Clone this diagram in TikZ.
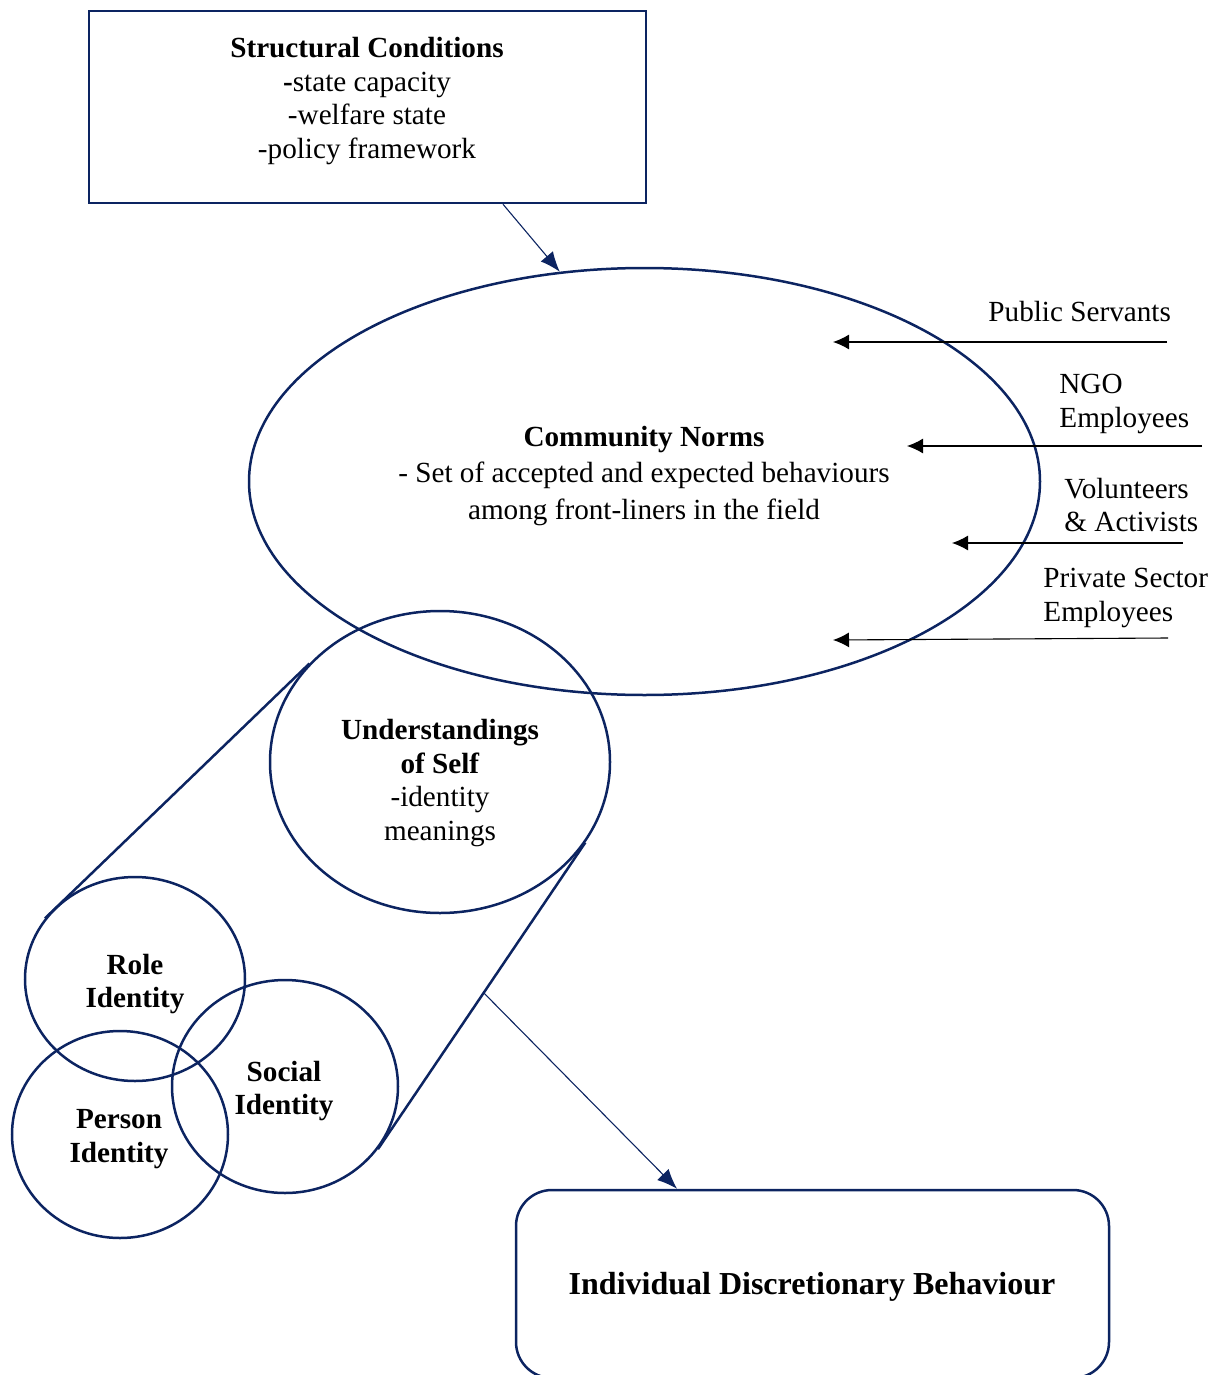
\documentclass[tikz,border=0pt]{standalone}
\usepackage{fontspec}
\setmainfont{Liberation Serif}
\usetikzlibrary{arrows.meta,calc,shapes.geometric}
\definecolor{navy}{RGB}{12,36,97}
\begin{document}
\begin{tikzpicture}[x=0.5pt,y=-0.5pt,
  shapeline/.style={draw=navy,line width=1.25pt},
  oval/.style={shapeline,ellipse,inner sep=0pt},
  txt/.style={align=center,inner sep=0pt,font=\fontsize{14.6}{16.85}\selectfont},
  sidelabel/.style={align=left,anchor=west,inner sep=0pt,font=\fontsize{14.6}{16.85}\selectfont},
  navyarrow/.style={draw=navy,line width=0.55pt,-{Latex[length=10pt,width=8pt]}},
  blackarrow/.style={draw=black,line width=0.55pt,-{Latex[length=8pt,width=7.5pt]}}]
\useasboundingbox (0,0) rectangle (1228,1375);

% structural conditions
\node[shapeline,rectangle,minimum width=278.5pt,minimum height=96pt] (sc) at (367.5,107) {};
\node[txt] (sctext) at (367,101) {\textbf{Structural Conditions}\\\textbf{-}state capacity\\-welfare state\\-policy framework};

% community norms
\node[oval,minimum width=395.5pt,minimum height=213.5pt] (cn) at (644.5,481.5) {};
\node[txt,font=\fontsize{14.6}{18.25}\selectfont] (cntext) at (644,476)
  {\textbf{Community Norms}\\- Set of accepted and expected behaviours\\among front-liners in the field};

% actors feeding into the norms
\coordinate (ps1) at (1167,342); \coordinate (ps2) at (833,342);
\coordinate (ngo1) at (1202,446); \coordinate (ngo2) at (907,446);
\coordinate (va1) at (1183,543); \coordinate (va2) at (952,543);
\coordinate (pr1) at (1168,638); \coordinate (pr2) at (833,640);
\draw[blackarrow] (ps1) -- (ps2);
\draw[blackarrow] (ngo1) -- (ngo2);
\draw[blackarrow] (va1) -- (va2);
\draw[blackarrow] (pr1) -- (pr2);
\node[sidelabel] (pslab) at (988,312) {Public Servants};
\node[sidelabel] (ngolab) at (1059,404) {NGO\\Employees};
\node[sidelabel] (valab) at (1064,505) {Volunteers\\\& Activists};
\node[sidelabel] (prlab) at (1043,598) {Private Sector\\Employees};

% understandings of self
\node[oval,minimum width=170pt,minimum height=151pt] (self) at (440,762) {};
\node[txt] (selftext) at (440,783) {\textbf{Understandings}\\\textbf{of Self}\\-identity\\meanings};

% identity circles
\node[oval,minimum width=110pt,minimum height=102pt] (role) at (135,979) {};
\node[oval,minimum width=113pt,minimum height=106.5pt] (social) at (285,1086.5) {};
\node[oval,minimum width=108pt,minimum height=103.5pt] (person) at (120,1134.5) {};
\node[txt,font=\bfseries\fontsize{14.6}{16.85}\selectfont] (roletext) at (135,984) {Role\\Identity};
\node[txt,font=\bfseries\fontsize{14.6}{16.85}\selectfont] (socialtext) at (284,1091) {Social\\Identity};
\node[txt,font=\bfseries\fontsize{14.6}{16.85}\selectfont] (persontext) at (119,1139) {Person\\Identity};

% funnel lines
\draw[shapeline] (role.146) -- (self.143);
\draw[shapeline] (self.-29) -- (social.-34);

% behaviour
\node[shapeline,rectangle,rounded corners=18pt,minimum width=296.5pt,minimum height=94pt] (idb) at (812.5,1284) {};
\node[txt,font=\bfseries\fontsize{16}{18}\selectfont] (idbtext) at (812,1287) {Individual Discretionary Behaviour};

% causal arrows
\draw[navyarrow] ([xshift=67.75pt]sc.south) -- (cn.112);
\coordinate (fork) at ($(self.-29)!0.49!(social.-34)$);
\draw[navyarrow] (fork) -- ([xshift=-67.75pt]idb.north);
\end{tikzpicture}
\end{document}
